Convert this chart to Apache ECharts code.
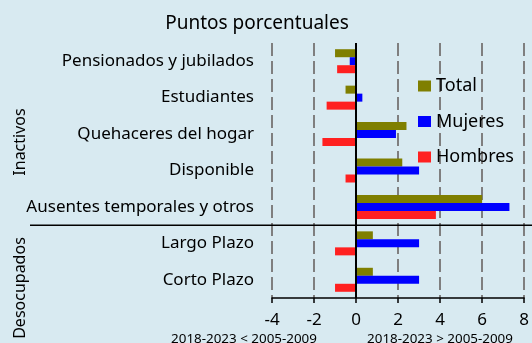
<!DOCTYPE html>
<html>
<head>
<meta charset="utf-8">
<script src="https://cdn.jsdelivr.net/npm/echarts@6/dist/echarts.min.js"></script>
<style>
  html, body { margin: 0; padding: 0; background: #d8eaf1; overflow: hidden; }
  #chart { width: 532px; height: 343px; }
</style>
</head>
<body>
<div id="chart"></div>
<script>
// Categories, top to bottom
const categories = [
  'Pensionados y jubilados',
  'Estudiantes',
  'Quehaceres del hogar',
  'Disponible',
  'Ausentes temporales y otros',
  'Largo Plazo',
  'Corto Plazo'
];

// Change in percentage points (2018-2023 vs 2005-2009)
const total   = [-1.0, -0.5, 2.4, 2.2, 6.0, 0.8, 0.8];
const mujeres = [-0.3, 0.3, 1.9, 3.0, 7.3, 3.0, 3.0];
const hombres = [-0.9, -1.4, -1.6, -0.5, 3.8, -1.0, -1.0];

const xTicks = { min: -4, max: 8, interval: 2 };

const FONT = '"Noto Sans", "DejaVu Sans", sans-serif';

const chart = echarts.init(document.getElementById('chart'), null, { renderer: 'canvas', width: 532, height: 343 });

function barSeries(name, data, color) {
  return {
    name: name,
    type: 'bar',
    data: data,
    barWidth: 8,
    barGap: '0%',
    itemStyle: { color: color },
    emphasis: { disabled: true }
  };
}

const series = [
  barSeries('Total', total, '#7f7f00'),
  barSeries('Mujeres', mujeres, '#0000ff'),
  barSeries('Hombres', hombres, '#ff2020')
];

// Solid zero reference line
series[0].markLine = {
  silent: true,
  symbol: 'none',
  label: { show: false },
  lineStyle: { color: '#000', width: 2, type: 'solid' },
  data: [{ xAxis: 0 }]
};

chart.setOption({
  backgroundColor: '#d8eaf1',
  animation: false,
  textStyle: { fontFamily: FONT },
  title: {
    text: 'Puntos porcentuales',
    left: 252,
    top: 9,
    textAlign: 'center',
    textStyle: { fontFamily: FONT, fontSize: 19, fontWeight: 'normal', color: '#000' }
  },
  legend: {
    orient: 'vertical',
    left: 418,
    top: 77,
    padding: 0,
    itemWidth: 13,
    itemHeight: 11,
    itemGap: 17.5,
    icon: 'rect',
    selectedMode: false,
    textStyle: { fontFamily: FONT, fontSize: 18, lineHeight: 18, color: '#000' },
    data: ['Total', 'Mujeres', 'Hombres']
  },
  grid: { left: 272, width: 257, top: 43, height: 255, containLabel: false },
  xAxis: {
    type: 'value',
    min: xTicks.min,
    max: xTicks.max,
    interval: xTicks.interval,
    axisLine: { show: true, onZero: false, lineStyle: { color: '#000', width: 1.5 } },
    axisTick: { show: true, length: 5, lineStyle: { color: '#000', width: 1.5 } },
    axisLabel: { fontFamily: FONT, fontSize: 17, color: '#000', margin: 14 },
    splitLine: { show: true, lineStyle: { color: '#7f7f7f', width: 2, type: [13, 5] } }
  },
  yAxis: {
    type: 'category',
    data: categories,
    inverse: true,
    axisLine: { show: false },
    axisTick: { show: false },
    axisLabel: { fontFamily: FONT, fontSize: 17, color: '#000', margin: 18 }
  },
  series: series
});

// Separator between the two groups and group titles
const yA = chart.convertToPixel({ yAxisIndex: 0 }, categories[4]);
const yB = chart.convertToPixel({ yAxisIndex: 0 }, categories[5]);
const sepY = (yA + yB) / 2;

chart.setOption({
  graphic: [
    {
      type: 'line',
      shape: { x1: 30, y1: sepY, x2: 532, y2: sepY },
      style: { stroke: '#000', lineWidth: 1.5 },
      silent: true
    },
    {
      type: 'text',
      x: 20, y: 142, rotation: Math.PI / 2,
      style: { text: 'Inactivos', font: '16px ' + FONT, fill: '#000', align: 'center', verticalAlign: 'middle' }
    },
    {
      type: 'text',
      x: 20, y: 288, rotation: Math.PI / 2,
      style: { text: 'Desocupados', font: '16px ' + FONT, fill: '#000', align: 'center', verticalAlign: 'middle' }
    },
    {
      type: 'text',
      x: 244, y: 339,
      style: { text: '2018-2023 < 2005-2009', font: '13.4px ' + FONT, fill: '#000', align: 'center', verticalAlign: 'middle' }
    },
    {
      type: 'text',
      x: 440, y: 339,
      style: { text: '2018-2023 > 2005-2009', font: '13.4px ' + FONT, fill: '#000', align: 'center', verticalAlign: 'middle' }
    }
  ]
});
</script>
</body>
</html>
